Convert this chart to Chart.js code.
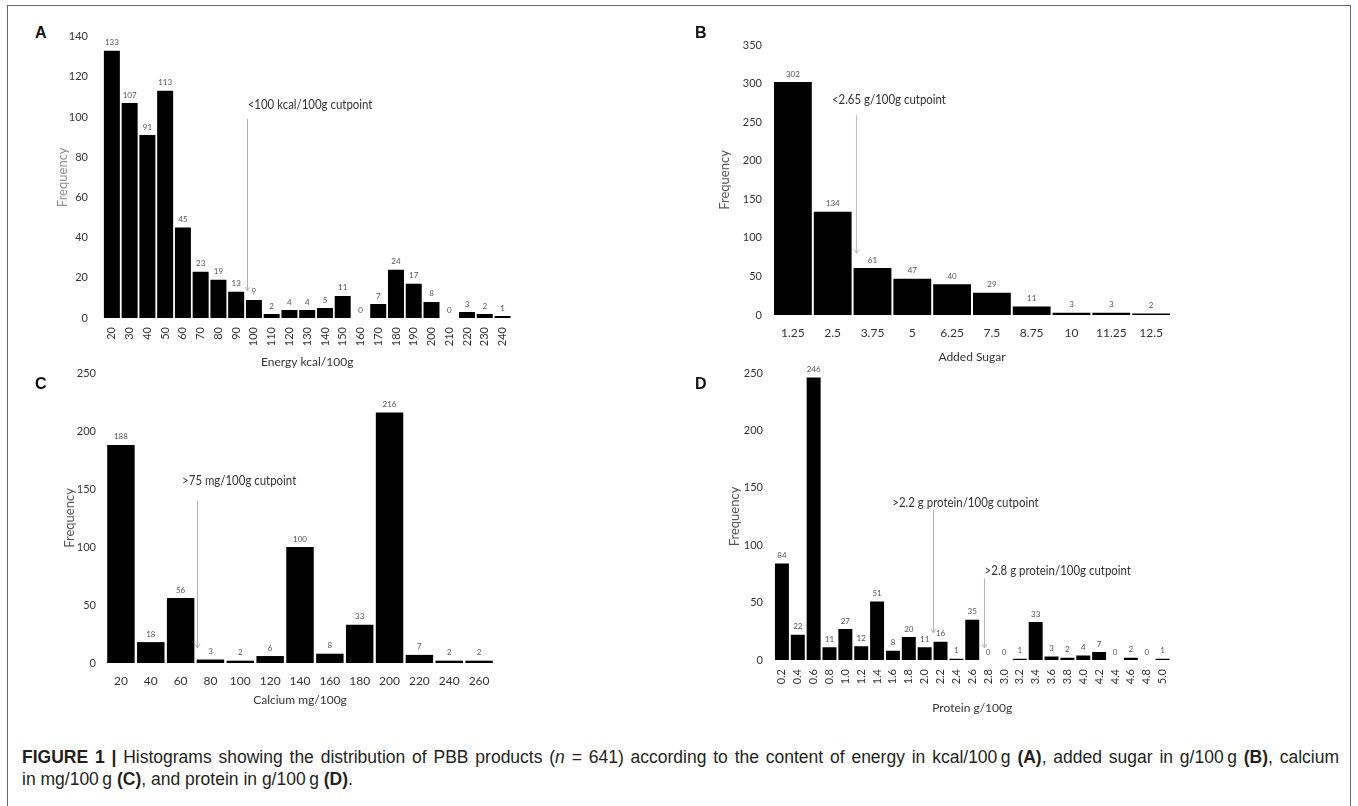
<!DOCTYPE html>
<html>
<head>
  <title>Figure 1 - PBB histograms</title>
  <script src="https://cdn.jsdelivr.net/npm/chart.js"></script>
  <style>
    body { margin: 0; background: #fff; width: 1358px; height: 806px; position: relative; overflow: hidden; }
    .frame { position: absolute; left: 7px; top: 5px; width: 1342px; height: 830px; border: 1.5px solid #666; }
    canvas { position: absolute; }
    .letter { position: absolute; font: bold 16px "Liberation Sans", Arial, sans-serif; line-height: 16px; color: #111; }
    .cap { position: absolute; left: 22px; width: 1317px; font: 17.5px "Liberation Sans", Arial, sans-serif; line-height: 22px; color: #231f20; white-space: nowrap; }
    #cap1 { top: 746px; text-align: justify; text-align-last: justify; }
    #cap2 { top: 768px; }
  </style>
</head>
<body>
  <div class="frame"></div>

  <canvas id="chartA" width="470" height="365" style="left:55px; top:15px"></canvas>
  <canvas id="chartB" width="480" height="350" style="left:705px; top:25px"></canvas>
  <canvas id="chartC" width="445" height="365" style="left:60px; top:355px"></canvas>
  <canvas id="chartD" width="460" height="370" style="left:725px; top:355px"></canvas>

  <div class="letter" style="left:35px; top:25px">A</div>
  <div class="letter" style="left:695px; top:25px">B</div>
  <div class="letter" style="left:35px; top:376px">C</div>
  <div class="letter" style="left:695px; top:376px">D</div>

  <div class="cap" id="cap1"><b>FIGURE 1 |</b> Histograms showing the distribution of PBB products (<i>n</i> = 641) according to the content of energy in kcal/100&#8201;g <b>(A)</b>, added sugar in g/100&#8201;g <b>(B)</b>, calcium</div>
  <div class="cap" id="cap2">in mg/100&#8201;g <b>(C)</b>, and protein in g/100&#8201;g <b>(D)</b>.</div>

  <script>
    // --- data ---
    var energyLabels = ['20', '30', '40', '50', '60', '70', '80', '90', '100', '110', '120', '130', '140', '150', '160', '170', '180', '190', '200', '210', '220', '230', '240'];
    var energyCounts = [133, 107, 91, 113, 45, 23, 19, 13, 9, 2, 4, 4, 5, 11, 0, 7, 24, 17, 8, 0, 3, 2, 1];

    var sugarLabels = ['1.25', '2.5', '3.75', '5', '6.25', '7.5', '8.75', '10', '11.25', '12.5'];
    var sugarCounts = [302, 134, 61, 47, 40, 29, 11, 3, 3, 2];

    var calciumLabels = ['20', '40', '60', '80', '100', '120', '140', '160', '180', '200', '220', '240', '260'];
    var calciumCounts = [188, 18, 56, 3, 2, 6, 100, 8, 33, 216, 7, 2, 2];

    var proteinLabels = ['0.2', '0.4', '0.6', '0.8', '1.0', '1.2', '1.4', '1.6', '1.8', '2.0', '2.2', '2.4', '2.6', '2.8', '3.0', '3.2', '3.4', '3.6', '3.8', '4.0', '4.2', '4.4', '4.6', '4.8', '5.0'];
    var proteinCounts = [84, 22, 246, 11, 27, 12, 51, 8, 20, 11, 16, 1, 35, 0, 0, 1, 33, 3, 2, 4, 7, 0, 2, 0, 1];

    // y axis ranges
    var energyMax = 140, energyStep = 20;
    var sugarMax = 350, sugarStep = 50;
    var calciumMax = 250, calciumStep = 50;
    var proteinMax = 250, proteinStep = 50;

    // small count printed above every bar
    var barValues = {
      id: 'barValues',
      afterDatasetsDraw: function(chart) {
        var ctx = chart.ctx;
        var meta = chart.getDatasetMeta(0);
        var vals = chart.data.datasets[0].data;
        ctx.save();
        ctx.font = '8px Lato';
        ctx.fillStyle = '#555';
        ctx.textAlign = 'center';
        ctx.textBaseline = 'bottom';
        meta.data.forEach(function(bar, i) {
          ctx.fillText(vals[i], bar.x, bar.y - 4);
        });
        ctx.restore();
      }
    };

    // cutpoint arrows with their text, placed through the scales
    var cutpoints = {
      id: 'cutpoints',
      afterDraw: function(chart, args, opts) {
        var ctx = chart.ctx, xs = chart.scales.x, ys = chart.scales.y;
        (opts.lines || []).forEach(function(c) {
          var x = Math.round(xs.getPixelForValue(c.at)) + 0.5;
          var y0 = ys.getPixelForValue(c.top);
          var y1 = ys.getPixelForValue(c.bottom);
          ctx.save();
          ctx.strokeStyle = c.color;
          ctx.lineWidth = 1;
          ctx.beginPath();
          ctx.moveTo(x, y0);
          ctx.lineTo(x, y1);
          ctx.moveTo(x - 2.5, y1 - 4);
          ctx.lineTo(x, y1);
          ctx.lineTo(x + 2.5, y1 - 4);
          ctx.stroke();
          // the original text is a bit condensed
          ctx.translate(xs.getPixelForValue(c.textAt), ys.getPixelForValue(c.textY));
          ctx.scale(0.88, 1);
          ctx.font = '13px Lato';
          ctx.fillStyle = '#333';
          ctx.textAlign = 'left';
          ctx.textBaseline = 'middle';
          ctx.fillText(c.text, 0, 0);
          ctx.restore();
        });
      }
    };

    function makeChart(id, labels, counts, cfg) {
      var ctx = document.getElementById(id).getContext('2d');
      return new Chart(ctx, {
        type: 'bar',
        data: {
          labels: labels,
          datasets: [{
            data: counts,
            backgroundColor: '#000',
            borderWidth: 0,
            barPercentage: cfg.barPct,
            categoryPercentage: 1
          }]
        },
        options: {
          responsive: false,
          animation: false,
          layout: { padding: { top: cfg.padTop, right: cfg.padRight, left: 0, bottom: 0 } },
          plugins: {
            legend: { display: false },
            tooltip: { enabled: false },
            cutpoints: { lines: cfg.cuts }
          },
          scales: {
            x: {
              grid: { display: false, drawTicks: false },
              border: { display: false },
              ticks: {
                autoSkip: false,
                minRotation: cfg.rot,
                maxRotation: cfg.rot,
                padding: cfg.xTickPad,
                color: '#333',
                font: { family: 'Lato', size: cfg.xTickSize }
              },
              title: {
                display: true,
                text: cfg.xTitle,
                color: '#333',
                font: { family: 'Lato', size: 12 },
                padding: { top: 0, bottom: cfg.xTitlePad }
              },
              afterFit: function(s) { s.height = cfg.xHeight; }
            },
            y: {
              min: 0,
              max: cfg.yMax,
              grid: { display: false, drawTicks: false },
              border: { display: false },
              ticks: {
                stepSize: cfg.yStep,
                padding: cfg.yTickPad,
                color: '#333',
                font: { family: 'Lato', size: 11 }
              },
              title: {
                display: true,
                text: 'Frequency',
                color: cfg.freqColor,
                font: { family: 'Lato', size: 13 },
                padding: { top: cfg.yTitlePad, bottom: 0 }
              },
              afterFit: function(s) { s.width = cfg.yWidth; }
            }
          }
        },
        plugins: [barValues, cutpoints]
      });
    }

    // A - energy
    makeChart('chartA', energyLabels, energyCounts, {
      yMax: energyMax, yStep: energyStep, barPct: 0.9, rot: 90, xTickSize: 11,
      padTop: 13, padRight: 13, yWidth: 48, xHeight: 62,
      yTitlePad: 0, xTitlePad: 11, xTickPad: 9, yTickPad: 15,
      xTitle: 'Energy kcal/100g', freqColor: '#909090',
      cuts: [{ at: 7.6, top: 99, bottom: 13.5, textAt: 7.65, textY: 106, text: '<100 kcal/100g cutpoint', color: '#b0b0b0' }]
    });

    // B - added sugar
    makeChart('chartB', sugarLabels, sugarCounts, {
      yMax: sugarMax, yStep: sugarStep, barPct: 0.95, rot: 0, xTickSize: 12,
      padTop: 20, padRight: 14, yWidth: 68, xHeight: 60,
      yTitlePad: 12, xTitlePad: 11, xTickPad: 11, yTickPad: 11,
      xTitle: 'Added Sugar', freqColor: '#555',
      cuts: [{ at: 1.585, top: 259, bottom: 80, textAt: 0.98, textY: 279, text: '<2.65 g/100g cutpoint', color: '#b8bcd6' }]
    });

    // C - calcium
    makeChart('chartC', calciumLabels, calciumCounts, {
      yMax: calciumMax, yStep: calciumStep, barPct: 0.92, rot: 0, xTickSize: 12,
      padTop: 18, padRight: 11, yWidth: 46, xHeight: 57,
      yTitlePad: 2, xTitlePad: 13, xTickPad: 11, yTickPad: 10,
      xTitle: 'Calcium mg/100g', freqColor: '#555',
      cuts: [{ at: 2.55, top: 140, bottom: 13, textAt: 2.05, textY: 157, text: '>75 mg/100g cutpoint', color: '#b0b0b0' }]
    });

    // D - protein
    makeChart('chartD', proteinLabels, proteinCounts, {
      yMax: proteinMax, yStep: proteinStep, barPct: 0.88, rot: 90, xTickSize: 11,
      padTop: 18, padRight: 12, yWidth: 49, xHeight: 65,
      yTitlePad: 2, xTitlePad: 10, xTickPad: 9, yTickPad: 11,
      xTitle: 'Protein g/100g', freqColor: '#555',
      cuts: [
        { at: 9.52, top: 131, bottom: 23.5, textAt: 6.96, textY: 137, text: '>2.2 g protein/100g cutpoint', color: '#b0b4c8' },
        { at: 12.72, top: 71, bottom: 10.5, textAt: 12.78, textY: 77.5, text: '>2.8 g protein/100g cutpoint', color: '#b0b4c8' }
      ]
    });
  </script>
</body>
</html>
